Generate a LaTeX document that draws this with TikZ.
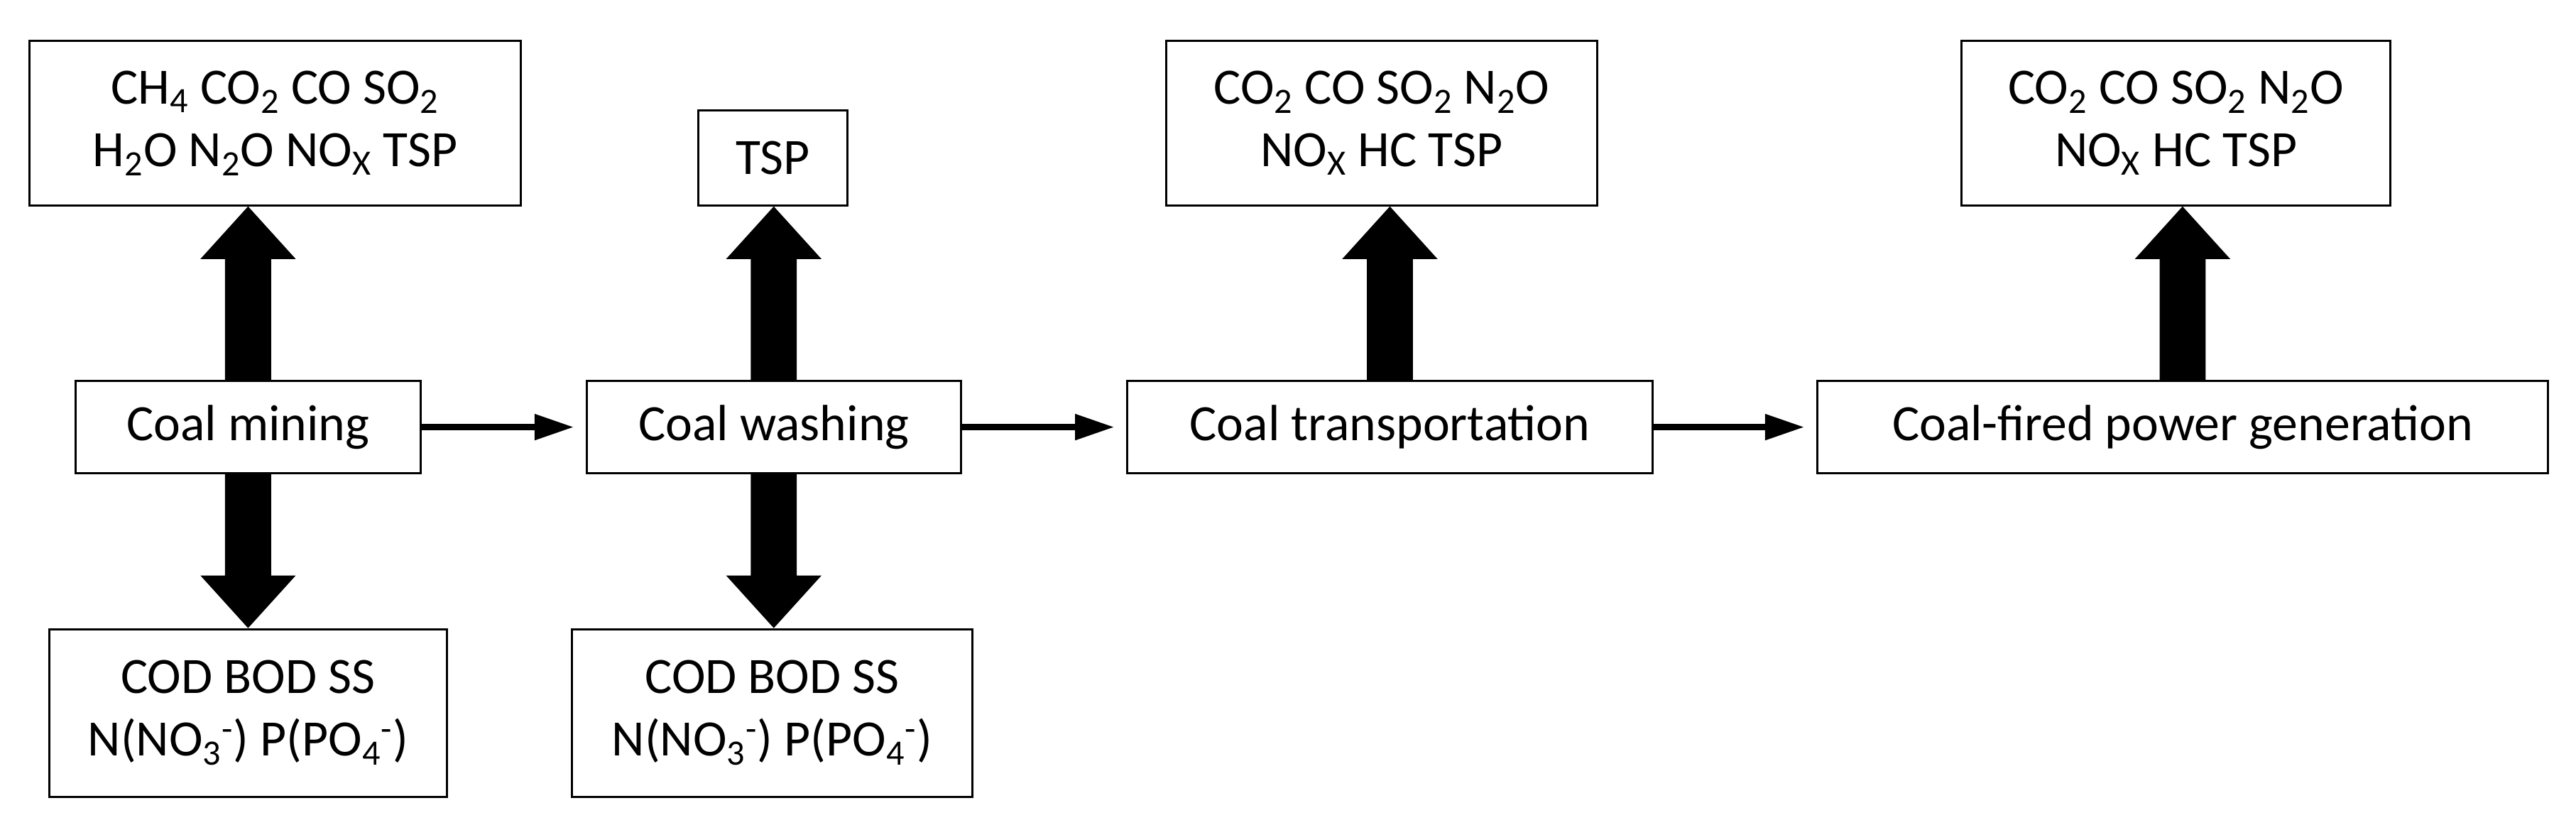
\documentclass[tikz,border=0pt]{standalone}
\usepackage{fontspec}
\setmainfont{Carlito}
\usetikzlibrary{calc,arrows.meta}
\newcommand\uparr[2]{\fill ($(#1)+(-14,0)$) -- ($(#2)+(-14,32)$) -- ($(#2)+(-29,32)$) -- (#2) -- ($(#2)+(29,32)$) -- ($(#2)+(14,32)$) -- ($(#1)+(14,0)$) -- cycle;}
\newcommand\dnarr[2]{\fill ($(#1)+(-14,0)$) -- ($(#2)+(-14,-32)$) -- ($(#2)+(-29,-32)$) -- (#2) -- ($(#2)+(29,-32)$) -- ($(#2)+(14,-32)$) -- ($(#1)+(14,0)$) -- cycle;}
\newcommand\sbs[1]{\textsubscript{#1}}
\newcommand\ion[2]{NO\textsubscript{#1}\textsuperscript{-}}
\begin{document}
\begin{tikzpicture}[x=1pt,y=-1pt,
  box/.style={draw,line width=1.3pt,align=center,inner sep=0pt,font=\fontsize{31}{38}\selectfont},
  harr/.style={line width=4pt,-{Triangle[length=24pt,width=15pt]},shorten >=7pt}]
\useasboundingbox (0,0) rectangle (1568,502);
\node[box,minimum width=299,minimum height=100] (t1) at (167.5,75) {CH\sbs{4} CO\sbs{2} CO SO\sbs{2}\\H\sbs{2}O N\sbs{2}O NO\sbs{X} TSP};
\node[box,minimum width=91,minimum height=58] (t2) at (470.5,96) {TSP};
\node[box,minimum width=262,minimum height=100] (t3) at (841,75) {CO\sbs{2} CO SO\sbs{2} N\sbs{2}O\\NO\sbs{X} HC TSP};
\node[box,minimum width=261,minimum height=100] (t4) at (1324.5,75) {CO\sbs{2} CO SO\sbs{2} N\sbs{2}O\\NO\sbs{X} HC TSP};
\node[box,minimum width=210,minimum height=56] (m) at (151,260) {Coal mining};
\node[box,minimum width=228,minimum height=56] (w) at (471,260) {Coal washing};
\node[box,minimum width=320,minimum height=56] (tr) at (846,260) {Coal transportation};
\node[box,minimum width=445,minimum height=56] (f) at (1328.5,260) {Coal-fired power generation};
\node[box,minimum width=242,minimum height=102] (b1) at (151,434) {COD BOD SS\\N(NO\sbs{3}\textsuperscript{-}) P(PO\sbs{4}\textsuperscript{-})};
\node[box,minimum width=244,minimum height=102] (b2) at (470,434) {COD BOD SS\\N(NO\sbs{3}\textsuperscript{-}) P(PO\sbs{4}\textsuperscript{-})};
\uparr{m.north}{m.north |- t1.south}
\dnarr{m.south}{m.south |- b1.north}
\uparr{w.north}{w.north |- t2.south}
\dnarr{w.south}{w.south |- b2.north}
\uparr{tr.north}{tr.north |- t3.south}
\uparr{f.north}{f.north |- t4.south}
\draw[harr] (m.east) -- (w.west);
\draw[harr] (w.east) -- (tr.west);
\draw[harr] (tr.east) -- (f.west);
\end{tikzpicture}
\end{document}
